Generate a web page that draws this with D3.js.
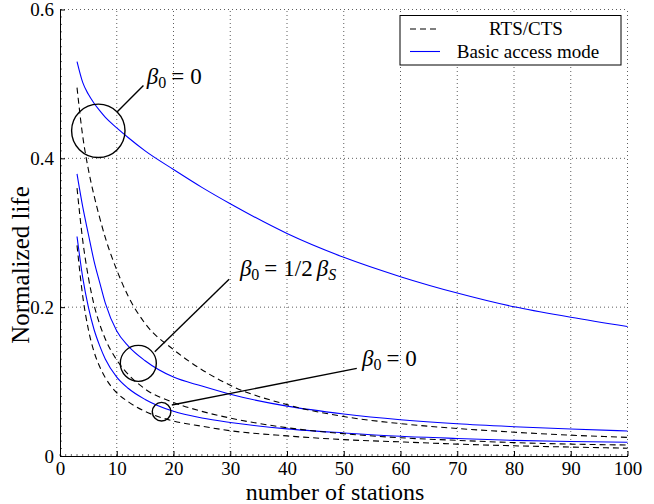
<!DOCTYPE html>
<html>
<head>
<meta charset="utf-8">
<script src="https://cdn.jsdelivr.net/npm/d3@7"></script>
<style>
  body { margin: 0; background: #fff; }
  svg, svg text { font-family: "Liberation Serif", "Times New Roman", serif; }
</style>
</head>
<body>
<svg id="plot" width="654" height="504"></svg>
<script>
const width = 654;
const height = 504;
const serif = "Liberation Serif";

// number of stations
const stations = [3, 4, 5, 6, 7, 8, 10, 12, 15, 20, 25, 30, 40, 50, 60, 70, 80, 90, 100];

// basic access mode (solid blue)
const basicA = [0.530, 0.502, 0.486, 0.474, 0.464, 0.455, 0.441, 0.428, 0.410, 0.385, 0.361, 0.339, 0.299, 0.267, 0.241, 0.219, 0.2005, 0.1865, 0.174];
const basicB = [0.379, 0.335, 0.298, 0.262, 0.233, 0.205, 0.168, 0.148, 0.128, 0.106, 0.094, 0.083, 0.067, 0.0565, 0.0488, 0.0433, 0.0394, 0.0362, 0.0336];
const basicC = [0.295, 0.240, 0.200, 0.170, 0.148, 0.130, 0.106, 0.091, 0.076, 0.060, 0.051, 0.045, 0.0365, 0.031, 0.0265, 0.0235, 0.021, 0.0195, 0.0184];

// RTS/CTS (dashed black)
const rtsA = [0.495, 0.430, 0.385, 0.350, 0.320, 0.293, 0.250, 0.215, 0.178, 0.143, 0.116, 0.095, 0.069, 0.053, 0.0435, 0.037, 0.032, 0.028, 0.025];
const rtsB = [0.360, 0.290, 0.240, 0.203, 0.177, 0.157, 0.129, 0.110, 0.090, 0.072, 0.060, 0.051, 0.038, 0.030, 0.0245, 0.021, 0.018, 0.016, 0.0148];
const rtsC = [0.283, 0.215, 0.170, 0.140, 0.120, 0.105, 0.085, 0.073, 0.060, 0.047, 0.040, 0.034, 0.027, 0.022, 0.019, 0.016, 0.0137, 0.012, 0.0105];

const xTicks = [0, 10, 20, 30, 40, 50, 60, 70, 80, 90, 100];
const yTicks = [0, 0.2, 0.4, 0.6];
const legendLabels = ["RTS/CTS", "Basic access mode"];

// annotations: circle centre (data units), line from -> to, label anchor
const notes = [
  { cx: 6.75, cy: 0.437, r: 26.7, x1: 10.0, y1: 0.462, x2: 14.7, y2: 0.498, tx: 15.3, ty: 0.500, label: "0" },
  { cx: 13.8, cy: 0.1245, r: 18, x1: 16.7, y1: 0.140, x2: 29.8, y2: 0.2376, tx: 31.7, ty: 0.2416, label: "1/2" },
  { cx: 17.9, cy: 0.0595, r: 9.3, x1: 19.7, y1: 0.0685, x2: 52.3, y2: 0.1177, tx: 53.2, ty: 0.1208, label: "0" }
];

const svg = d3.select("#plot");

const x = d3.scaleLinear().domain([0, 100]).range([60, 627.5]);
const y = d3.scaleLinear().domain([0, 0.6]).range([456, 9.5]);

// grid
const grid = svg.append("g")
  .attr("stroke", "#333")
  .attr("stroke-width", 0.8)
  .attr("stroke-dasharray", "1,3");
grid.selectAll(".gx")
  .data(xTicks.filter(d => d > 0))
  .enter().append("line")
  .attr("x1", d => x(d)).attr("x2", d => x(d))
  .attr("y1", y(0)).attr("y2", y(0.6));
grid.selectAll(".gy")
  .data(yTicks.filter(d => d > 0))
  .enter().append("line")
  .attr("x1", x(0)).attr("x2", x(100))
  .attr("y1", d => y(d)).attr("y2", d => y(d));

// curves
const line = vals => d3.line()
  .x((d, i) => x(stations[i]))
  .y(d => y(d))
  .curve(d3.curveMonotoneX)(vals);

[basicA, basicB, basicC].forEach(s => {
  svg.append("path")
    .attr("d", line(s))
    .attr("fill", "none")
    .attr("stroke", "#0000ff")
    .attr("stroke-width", 1.1);
});
[rtsA, rtsB, rtsC].forEach(s => {
  svg.append("path")
    .attr("d", line(s))
    .attr("fill", "none")
    .attr("stroke", "#000")
    .attr("stroke-width", 1.1)
    .attr("stroke-dasharray", "6,4");
});

// axes
const xAxis = d3.axisBottom(x).tickValues(xTicks).tickSizeInner(-5).tickSizeOuter(0).tickPadding(6).tickFormat(d3.format("d"));
const yAxis = d3.axisLeft(y).tickValues(yTicks).tickSizeInner(-5).tickSizeOuter(0).tickPadding(6).tickFormat(d => d === 0 ? "0" : d3.format(".1f")(d));

const gx = svg.append("g").attr("transform", `translate(0,${y(0)})`).call(xAxis);
const gy = svg.append("g").attr("transform", `translate(${x(0)},0)`).call(yAxis);
[gx, gy].forEach(g => {
  g.attr("font-family", serif);
  g.selectAll("text").attr("font-size", 19).attr("font-family", serif).attr("fill", "#000");
  g.selectAll("line").attr("stroke", "#000");
  g.select(".domain").attr("stroke", "#000");
});
gx.selectAll("text").attr("dy", "0.71em");
gy.selectAll("text").attr("dy", "0.32em");

// minor ticks
svg.append("g").selectAll("line")
  .data(d3.range(0, 101, 1))
  .enter().append("line")
  .attr("x1", d => x(d)).attr("x2", d => x(d))
  .attr("y1", y(0)).attr("y2", y(0) - 2)
  .attr("stroke", "#000").attr("stroke-width", 0.6);
svg.append("g").selectAll("line")
  .data(d3.range(0, 61, 1).map(d => d / 100))
  .enter().append("line")
  .attr("x1", x(0)).attr("x2", x(0) + 2)
  .attr("y1", d => y(d)).attr("y2", d => y(d))
  .attr("stroke", "#000").attr("stroke-width", 0.6);

// axis labels
svg.append("text")
  .attr("x", 335).attr("y", 500)
  .attr("text-anchor", "middle")
  .attr("font-family", serif)
  .attr("font-size", 24)
  .text("number of stations");
svg.append("text")
  .attr("transform", "translate(29,265) rotate(-90)")
  .attr("text-anchor", "middle")
  .attr("font-family", serif)
  .attr("font-size", 25)
  .text("Normalized life");

// annotations
const ann = svg.append("g");
notes.forEach(n => {
  ann.append("circle")
    .attr("cx", x(n.cx)).attr("cy", y(n.cy)).attr("r", n.r)
    .attr("fill", "none").attr("stroke", "#000").attr("stroke-width", 1.4);
  ann.append("line")
    .attr("x1", x(n.x1)).attr("y1", y(n.y1))
    .attr("x2", x(n.x2)).attr("y2", y(n.y2))
    .attr("stroke", "#000").attr("stroke-width", 1.4);
  const t = ann.append("text")
    .attr("x", x(n.tx)).attr("y", y(n.ty))
    .attr("font-family", serif)
    .attr("font-size", 23);
  t.append("tspan").attr("font-style", "italic").text("β");
  t.append("tspan").attr("font-size", 16).attr("dy", 4).text("0");
  t.append("tspan").attr("dy", -4).attr("dx", 5).text("=");
  if (n.label === "0") {
    t.append("tspan").attr("dx", 6).text("0");
  } else {
    t.append("tspan").attr("dx", 6).text("1/2");
    t.append("tspan").attr("dx", 4).attr("font-style", "italic").text("β");
    t.append("tspan").attr("font-size", 16).attr("font-style", "italic").attr("dy", 4).text("S");
  }
});

// legend
const lg = svg.append("g").attr("font-family", serif);
lg.append("rect")
  .attr("x", 400).attr("y", 15.5).attr("width", 221).attr("height", 49.5)
  .attr("fill", "#fff").attr("stroke", "#000").attr("stroke-width", 1);
lg.append("line").attr("x1", 410).attr("x2", 440).attr("y1", 29).attr("y2", 29)
  .attr("stroke", "#000").attr("stroke-width", 1.1).attr("stroke-dasharray", "6,4");
lg.append("line").attr("x1", 410).attr("x2", 440).attr("y1", 51.5).attr("y2", 51.5)
  .attr("stroke", "#0000ff").attr("stroke-width", 1.1);
lg.append("text").attr("x", 526).attr("y", 35).attr("text-anchor", "middle").attr("font-size", 19).text(legendLabels[0]);
lg.append("text").attr("x", 528).attr("y", 57.5).attr("text-anchor", "middle").attr("font-size", 19).text(legendLabels[1]);
</script>
</body>
</html>
